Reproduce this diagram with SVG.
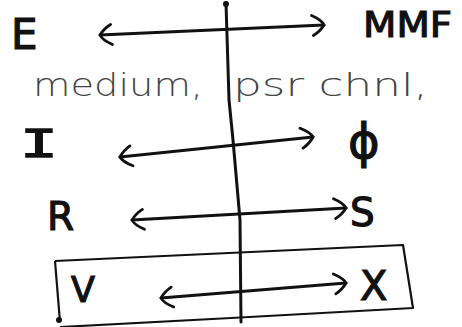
<svg xmlns="http://www.w3.org/2000/svg" width="462" height="327" viewBox="0 0 462 327">
<defs>
<style>
.lbl{font-family:"DejaVu Sans","Liberation Sans",sans-serif;fill:#111;stroke:#111;stroke-width:1.2}
.serif{font-family:"Liberation Mono","DejaVu Sans Mono",monospace;stroke-width:1.4}
.note{font-family:"DejaVu Sans","Liberation Sans",sans-serif;font-weight:300;fill:#444;stroke:none}
.ln{fill:none;stroke:#111;stroke-width:3;stroke-linecap:round;stroke-linejoin:round}
.box{fill:none;stroke:#111;stroke-width:2.2;stroke-linejoin:round}
</style>
<marker id="ah" viewBox="0 0 16 24" refX="14" refY="12" markerWidth="16" markerHeight="24" markerUnits="userSpaceOnUse" orient="auto-start-reverse">
<path d="M2,2 Q12,7 14,12 Q10,18 3,22" fill="none" stroke="#111" stroke-width="2.8" stroke-linecap="round"/>
</marker>
</defs>
<rect width="462" height="327" fill="#fff"/>
<g id="axis">
<polyline class="ln" points="226,3 229,100 233,140 240,220 241,322" stroke-width="4"/>
<circle cx="226" cy="4" r="3" fill="#111"/>
</g>
<g id="connectors">
<line class="ln" x1="100" y1="35" x2="324" y2="25" marker-start="url(#ah)" marker-end="url(#ah)"/>
<line class="ln" x1="120" y1="157" x2="313" y2="137" marker-start="url(#ah)" marker-end="url(#ah)"/>
<line class="ln" x1="132" y1="220" x2="346" y2="208" marker-start="url(#ah)" marker-end="url(#ah)"/>
<line class="ln" x1="161" y1="298" x2="346" y2="283" marker-start="url(#ah)" marker-end="url(#ah)"/>
</g>
<g id="box">
<path class="box" d="M55,261 L403,245 L413,308 L231,318 L60,327"/>
<path class="box" d="M55,261 L60,322"/>
<circle cx="59" cy="320" r="3" fill="#111"/>
</g>
<g id="node-E"><text class="lbl" x="11" y="49" font-size="42">E</text></g>
<g id="node-MMF"><text class="lbl" x="363" y="37" font-size="36" textLength="89" lengthAdjust="spacingAndGlyphs">MMF</text></g>
<g id="note">
<text class="note" x="33" y="96" font-size="32" textLength="170" lengthAdjust="spacingAndGlyphs">medium,</text>
<text class="note" x="233" y="96" font-size="32" textLength="195" lengthAdjust="spacingAndGlyphs">psr chnl,</text>
</g>
<g id="node-I"><text class="lbl serif" x="20" y="157" font-size="42" textLength="38" lengthAdjust="spacingAndGlyphs">I</text></g>
<g id="node-phi"><text class="lbl" x="348" y="158" font-size="48">ϕ</text></g>
<g id="node-R"><text class="lbl" x="47" y="230" font-size="39">R</text></g>
<g id="node-S"><text class="lbl" x="350" y="226" font-size="39">S</text></g>
<g id="node-V"><text class="lbl" x="71" y="302" font-size="35">V</text></g>
<g id="node-X"><text class="lbl" x="360" y="300" font-size="40">X</text></g>
</svg>
